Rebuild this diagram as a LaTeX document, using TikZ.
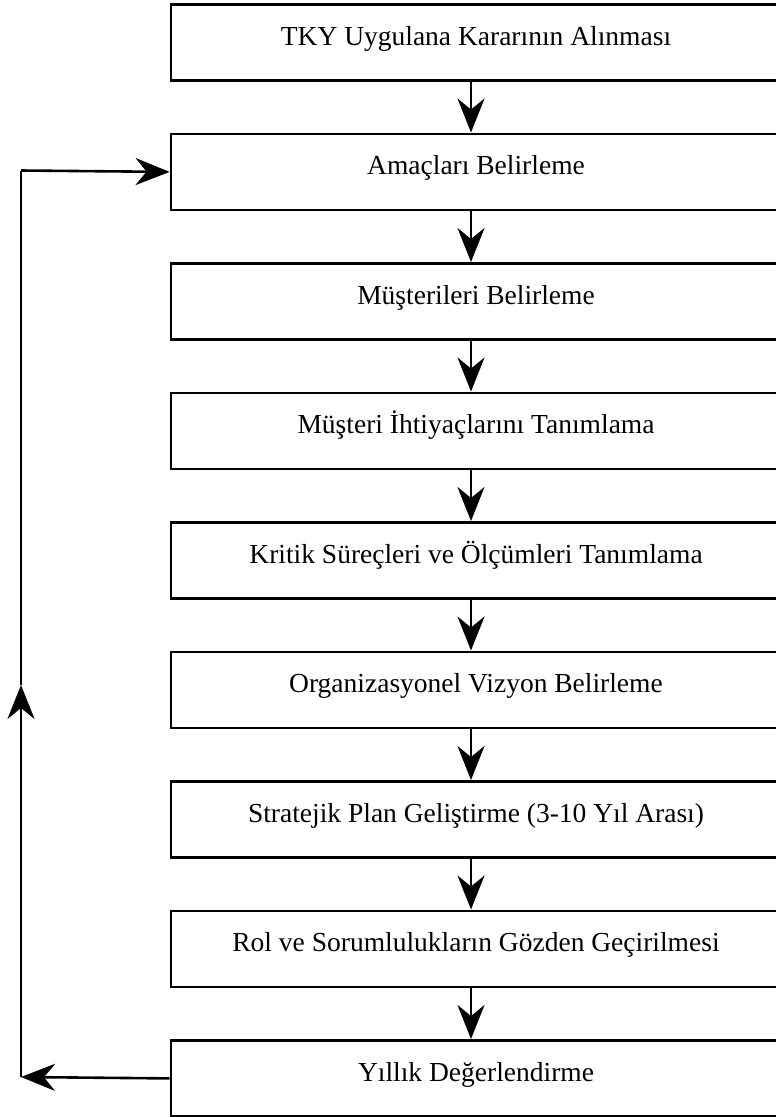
\documentclass[tikz,border=0pt]{standalone}
\usepackage{fontspec}
\setmainfont{Liberation Serif}
\usetikzlibrary{arrows.meta}
\begin{document}
\begin{tikzpicture}[x=1pt,y=-1pt,
  stepbox/.style={draw, line width=2.8pt, minimum width=610pt, minimum height=76pt,
    inner sep=0pt, anchor=north, text height=12pt, text depth=6pt,
    font=\fontsize{27.5}{32}\selectfont},
  tipstyle/.style={-{Stealth[length=34pt,width=27pt,inset=11pt]}},
  flow/.style={line width=2.3pt, tipstyle},
  loopline/.style={line width=2.6pt}
]
\useasboundingbox (0,0) rectangle (776,1117);
\begin{scope}
\clip (0,0) rectangle (776,1117);
\node[stepbox] (b1) at (476,3)      {TKY Uygulana Kararının Alınması};
\node[stepbox] (b2) at (476,132.5)  {Amaçları Belirleme};
\node[stepbox] (b3) at (476,262)    {Müşterileri Belirleme};
\node[stepbox] (b4) at (476,391.5)  {Müşteri İhtiyaçlarını Tanımlama};
\node[stepbox] (b5) at (476,521)    {Kritik Süreçleri ve Ölçümleri Tanımlama};
\node[stepbox] (b6) at (476,650.5)  {Organizasyonel Vizyon Belirleme};
\node[stepbox] (b7) at (476,780)    {Stratejik Plan Geliştirme (3-10 Yıl Arası)};
\node[stepbox] (b8) at (476,909.5)  {Rol ve Sorumlulukların Gözden Geçirilmesi};
\node[stepbox] (b9) at (476,1039)   {Yıllık Değerlendirme};
\end{scope}
\foreach \a/\b in {b1/b2,b2/b3,b3/b4,b4/b5,b5/b6,b6/b7,b7/b8,b8/b9}{
  \draw[flow] ([xshift=-5pt]\a.south) -- ([xshift=-5pt]\b.north);
}
\coordinate (c1) at (21,1077);
\coordinate (c3) at (21,685);
\coordinate (c2) at (21,170.5);
\draw[flow, line width=2.6pt] (b9.west) -- (c1);
\draw[loopline, tipstyle] (c1) -- (c3);
\draw[loopline] (c3) -- (c2);
\draw[flow, line width=2.6pt] (c2) -- (b2.west);
\end{tikzpicture}
\end{document}
